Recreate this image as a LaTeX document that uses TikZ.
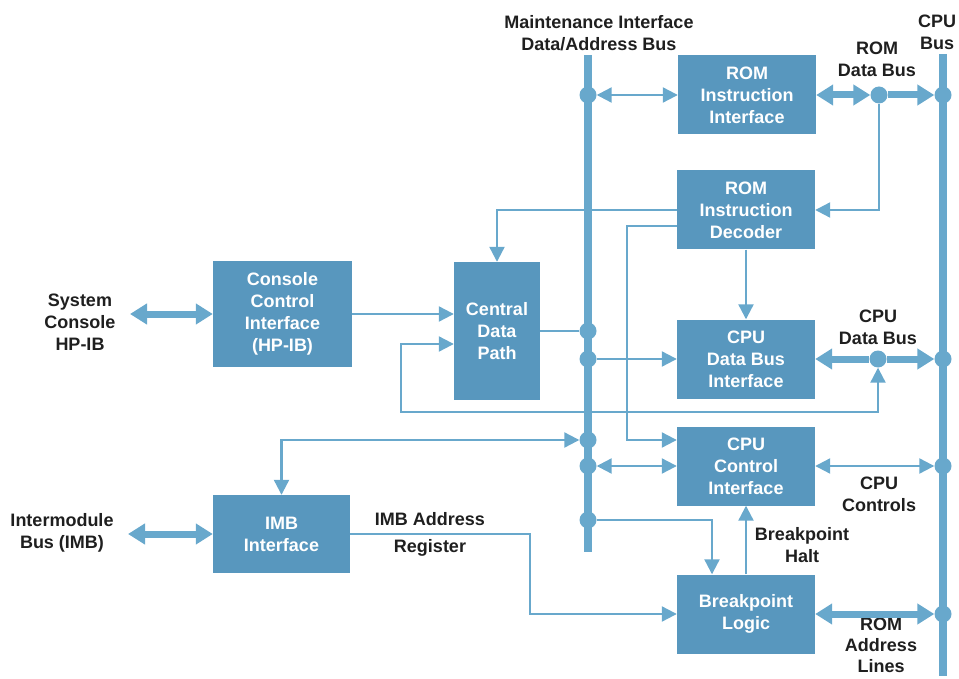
\documentclass[tikz,border=0pt]{standalone}
\usepackage{fontspec}
\setmainfont{Liberation Sans}
\usetikzlibrary{arrows.meta,positioning}
\definecolor{boxblue}{RGB}{88,151,190}
\definecolor{wireblue}{RGB}{104,168,204}
\begin{document}
\begin{tikzpicture}[x=1pt,y=-1pt,
        blk/.style={fill=boxblue,text=white,inner sep=0pt,minimum width=138pt,minimum height=79pt,align=center,font=\bfseries\fontsize{18}{22}\selectfont},
        lbl/.style={align=center,text=black!88,font=\bfseries\fontsize{18}{22}\selectfont},
        tap/.style={circle,fill=wireblue,inner sep=0pt,minimum size=17pt},
        wire/.style={draw=wireblue,line width=2.2pt},
        fat/.style={draw=wireblue,line width=7pt},
        bus/.style={draw=wireblue,line width=8pt},
        wtip/.tip={Triangle[length=15pt,width=15pt]},
        btip/.tip={Triangle[length=17pt,width=20pt]}]
        \useasboundingbox (0,0) rectangle (959,679);

        \coordinate (mtop) at (588,55);
        \coordinate (mbot) at (588,552);
        \coordinate (ctop) at (943,54);
        \coordinate (cbot) at (943,676);
        \coordinate (sysend) at (130,314);
        \coordinate (imbend) at (128,534);
        \coordinate (fbk) at (401,412);
        \coordinate (dbend) at (627,440);
        \coordinate (abend) at (530,614);

        \draw[bus] (mtop)--(mbot);
        \draw[bus] (ctop)--(cbot);

        \node[blk] (rii) at (747,95) {ROM\\Instruction\\Interface};
        \node[blk] (rid) at (746,210) {ROM\\Instruction\\Decoder};
        \node[blk] (cdbi) at (746,359) {CPU\\Data Bus\\Interface};
        \node[blk] (cci) at (746,466) {CPU\\Control\\Interface};
        \node[blk] (bl) at (746,614) {Breakpoint\\Logic};
        \node[blk,minimum width=139pt,minimum height=106pt] (con) at (282.5,314) {Console\\Control\\Interface\\(HP-IB)};
        \node[blk,minimum width=86pt,minimum height=138pt] (cdp) at (497,331) {Central\\Data\\Path};
        \node[blk,minimum width=137pt,minimum height=78pt] (imb) at (281.5,534) {IMB\\Interface};

        \node[tap] (m1) at (588,95) {};
        \node[tap] (m2) at (588,331) {};
        \node[tap] (m3) at (588,359) {};
        \node[tap] (m4) at (588,440) {};
        \node[tap] (m5) at (588,466) {};
        \node[tap] (m6) at (588,520) {};
        \node[tap] (c1) at (943,95) {};
        \node[tap] (c2) at (943,359) {};
        \node[tap] (c3) at (943,466) {};
        \node[tap] (c4) at (943,614) {};
        \node[tap] (rdb) at (879,95) {};
        \node[tap] (cdb) at (878,359) {};

        \node[lbl] (mlbl) at (599,33) {Maintenance Interface\\Data/Address Bus};
        \node[lbl] (clbl) at (937,32) {CPU\\Bus};
        \node[lbl] (rdblbl) at (877,59) {ROM\\Data Bus};
        \node[lbl] (cdblbl) at (878,327) {CPU\\Data Bus};
        \node[lbl] (ctllbl) at (879,494) {CPU\\Controls};
        \node[lbl] (bphlbl) at (802,545) {Breakpoint\\Halt};
        \node[lbl,font=\bfseries\fontsize{18}{21}\selectfont] (ralbl) at (881,645) {ROM\\Address\\Lines};
        \node[lbl] (syslbl) at (80,322) {System\\Console\\HP-IB};
        \node[lbl] (imblbl) at (62,533) {Intermodule\\Bus (IMB)};
        \node[lbl] (adrlbl) at (430,519) {IMB Address};
        \node[lbl] (reglbl) at (430,548) {Register};

        \draw[fat,btip-btip] (sysend)--(con);
        \draw[fat,btip-btip] (imbend)--(imb);
        \draw[fat,btip-btip] (rii)--(rdb);
        \draw[fat,-btip] (rdb)--(c1);
        \draw[fat,btip-] (cdbi)--(cdb);
        \draw[fat,-btip] (cdb)--(c2);
        \draw[fat,btip-btip] (bl)--(c4);

        \draw[wire,wtip-wtip] (m1)--(rii);
        \draw[wire,-wtip] (rdb) |- (rid.east);
        \draw[wire,-wtip] (rid.west) -| (cdp.north);
        \draw[wire,-wtip] ([yshift=-16pt]rid.west) -| (dbend)--(dbend -| cci.west);
        \draw[wire,-wtip] (rid)--(cdbi);
        \draw[wire,-wtip] (con.east)--(con.east -| cdp.west);
        \draw[wire] (cdp)--(m2);
        \draw[wire,-wtip] (m3)--(cdbi);
        \draw[wire,wtip-wtip] (cdb) |- (fbk) |- ([yshift=-13pt]cdp.west);
        \draw[wire,wtip-wtip] (m4) -| (imb);
        \draw[wire,wtip-wtip] (m5)--(cci);
        \draw[wire,wtip-wtip] (cci)--(c3);
        \draw[wire,-wtip] (m6) -| ([xshift=-34pt]bl.north);
        \draw[wire,-wtip] (bl)--(cci);
        \draw[wire,-wtip] (imb.east) -| (abend)--(bl.west);
\end{tikzpicture}
\end{document}
